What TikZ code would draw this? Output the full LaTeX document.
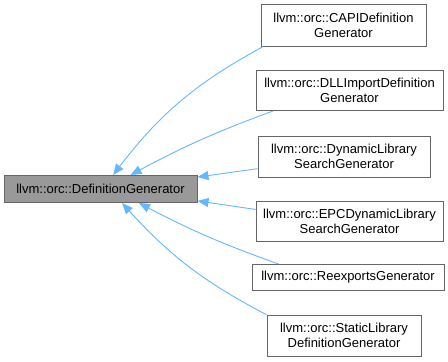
\documentclass[tikz,border=0pt]{standalone}
\usepackage{fontspec}
\setmainfont{Liberation Sans}
\definecolor{GrisBordDoxy}{HTML}{666666}
\definecolor{GrisFondDoxy}{HTML}{999999}
\definecolor{BleuLienDoxy}{HTML}{63B8FF}
\usetikzlibrary{arrows.meta}
\tikzset{
	classe/.style={draw=GrisBordDoxy, fill=white, line width=1pt, align=center,
		inner sep=0pt, font=\fontsize{13}{15}\selectfont},
	base/.style={classe, fill=GrisFondDoxy},
	herite/.style={draw=BleuLienDoxy, line width=0.9pt,
		-{Triangle[length=11pt,width=9pt]}}
}
\begin{document}
\begin{tikzpicture}[x=1pt,y=-1pt]
	\useasboundingbox (0,0) rectangle (448,362);
	%
	%Classe mere
	\node[base,minimum width=193pt,minimum height=27pt] at (100.5,189) (DefGen) {llvm::orc::DefinitionGenerator};
	%
	%Classes filles
	\node[classe,minimum width=165pt,minimum height=42pt] at (343.5,25) (CAPI) {llvm::orc::CAPIDefinition\\Generator};
	\node[classe,minimum width=187pt,minimum height=40pt] at (349.5,90.5) (DLLImport) {llvm::orc::DLLImportDefinition\\Generator};
	\node[classe,minimum width=172pt,minimum height=41pt] at (344,156.5) (DynLib) {llvm::orc::DynamicLibrary\\SearchGenerator};
	\node[classe,minimum width=187pt,minimum height=40pt] at (349.5,221) (EPCDynLib) {llvm::orc::EPCDynamicLibrary\\SearchGenerator};
	\node[classe,minimum width=192pt,minimum height=26pt] at (348,277.5) (Reexports) {llvm::orc::ReexportsGenerator};
	\node[classe,minimum width=154pt,minimum height=41pt] at (344,335.5) (StaticLib) {llvm::orc::StaticLibrary\\DefinitionGenerator};
	%
	%Heritage
	\draw[herite] (CAPI.195) to [bend right=12] (DefGen.48);
	\draw[herite] (DLLImport.195) to [bend right=4] (DefGen.25);
	\draw[herite] (DynLib.188) to (DefGen.7);
	\draw[herite] (EPCDynLib.173) to (DefGen.-7);
	\draw[herite] (Reexports.169) to [bend left=4] (DefGen.-20);
	\draw[herite] (StaticLib.165) to [bend left=10] (DefGen.-33);
	%
\end{tikzpicture}
\end{document}
